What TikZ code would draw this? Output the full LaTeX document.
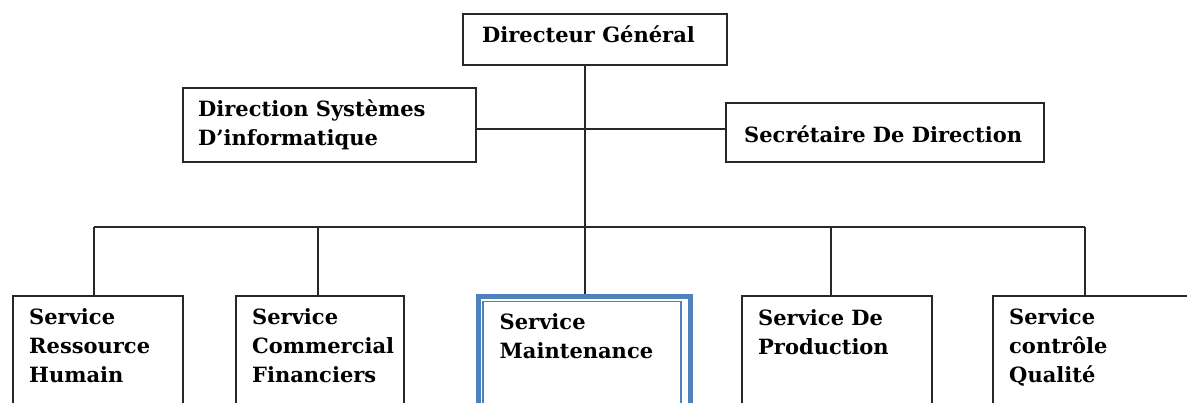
\documentclass[tikz,border=0pt]{standalone}
\usepackage{fontspec}
\setmainfont{DejaVu Serif}
\usepackage{xcolor}
\definecolor{box-line}{RGB}{40,40,40}
\definecolor{maint-blue}{RGB}{79,129,189}
\usetikzlibrary{calc}

\begin{document}
\begin{tikzpicture}[x=1pt,y=-1pt,
	box/.style={draw=box-line,line width=2pt,anchor=north west,inner sep=0pt},
	link/.style={draw=box-line,line width=2pt},
	lbl/.style={anchor=base west,inner sep=0pt,align=left,
		font=\bfseries\fontsize{21}{29}\selectfont}]
	\clip (0,0) rectangle (1187,403);
	
	% top of the chart
	\node[box,minimum width=264pt,minimum height=51pt] (dg) at (462,13) {};
	\node[lbl] (dg-t) at ($(dg.north west)+(20,30)$) {Directeur Général};
	
	\node[box,minimum width=293pt,minimum height=74pt] (dsi) at (182,87) {};
	\node[lbl] (dsi-t) at ($(dsi.north west)+(16,59)$) {Direction Systèmes\\D’informatique};
	
	\node[box,minimum width=318pt,minimum height=59pt] (sd) at (725,102) {};
	\node[lbl] (sd-t) at ($(sd.north west)+(19,41)$) {Secrétaire De Direction};
	
	\coordinate (side) at (585,129);
	\coordinate (trunk) at (585,227);
	
	% services (text placed by its last line)
	\foreach \x/\w/\dx/\b/\n/\t in 
	{12/170/94/88/rh/{Service\\Ressource\\Humain},
	 235/168/318/88/cf/{Service\\Commercial\\Financiers},
	 741/190/831/60/pr/{Service De\\Production},
	 992/230/1085/88/cq/{Service\\contrôle\\Qualité}}{
		\node[box,minimum width=\w pt,minimum height=140pt] (\n) at (\x,295) {};
		\node[lbl] (\n-t) at ($(\n.north west)+(17,\b)$) {\t};
		\coordinate (drop-\n) at (\dx,227);
		\draw[link] (drop-\n) -- (drop-\n |- \n.north);
	}
	
	% the highlighted one
	\node[box,draw=maint-blue,line width=5pt,minimum width=212pt,minimum height=140pt] 
		(ms) at (475.5,294.5) {};
	\node[box,draw=maint-blue,line width=1.5pt,minimum width=198pt,minimum height=130pt] 
		(ms-in) at (482,301) {};
	\node[lbl] (ms-t) at ($(ms.north west)+(24,64)$) {Service\\Maintenance};
	
	\draw[link] (dg.south -| trunk) -- (trunk);
	\draw[link] (dsi.east |- side) -- (sd.west |- side);
	\draw[link] (drop-rh) -- (drop-cq);
	\draw[link] (trunk) -- (trunk |- ms.north);
\end{tikzpicture}
\end{document}
